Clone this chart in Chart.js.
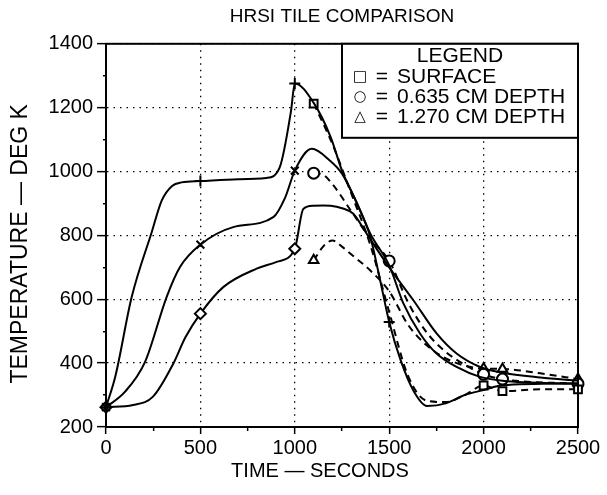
<!DOCTYPE html>
<html>
<head>
<meta charset="utf-8">
<script src="https://cdn.jsdelivr.net/npm/chart.js@4.4.0/dist/chart.umd.min.js"></script>
<style>
html, body { margin: 0; padding: 0; background: #fff; }
</style>
</head>
<body>
<canvas id="chart" width="607" height="495"></canvas>
<script>
// HRSI tile comparison: computed curves (solid) and test data (dashed)

// axis ticks
const xTicks = [0, 500, 1000, 1500, 2000, 2500];
const yTicks = [200, 400, 600, 800, 1000, 1200, 1400];

// computed - surface (+)
const surfCalcTime = [0, 50, 136, 242, 295, 350, 400, 500, 700, 850, 920, 980, 1000, 1100, 1190, 1250, 1330, 1400, 1450, 1500, 1560, 1630, 1700, 1800, 1900, 2000, 2100, 2500];
const surfCalcTemp = [262, 360, 607, 810, 909, 955, 966, 970, 976, 980, 1013, 1190, 1276, 1215, 1108, 1003, 899, 795, 665, 529, 410, 312, 266, 274, 300, 316, 331, 337];
const surfCalcMarks = [0, 500, 1000, 1500];

// computed - 0.635 cm depth (x)
const midCalcTime = [0, 100, 207, 321, 392, 500, 674, 886, 950, 1000, 1090, 1186, 1250, 1330, 1400, 1500, 1575, 1663, 1751, 1857, 1981, 2100, 2500];
const midCalcTemp = [262, 310, 404, 607, 701, 771, 826, 857, 920, 1003, 1071, 1034, 993, 900, 805, 706, 587, 493, 430, 388, 357, 345, 335];
const midCalcMarks = [0, 500, 1000];

// computed - 1.270 cm depth (diamond)
const deepCalcTime = [0, 143, 249, 357, 420, 500, 621, 798, 904, 1000, 1045, 1100, 1150, 1190, 1250, 1310, 1381, 1500, 1628, 1751, 1857, 1981, 2100, 2300, 2500];
const deepCalcTemp = [262, 269, 295, 399, 480, 555, 638, 696, 717, 758, 883, 893, 894, 893, 885, 868, 805, 700, 597, 493, 430, 388, 370, 355, 345];
const deepCalcMarks = [0, 500, 1000];

// test data - surface (square)
const surfTestTime = [1100, 1200, 1300, 1400, 1500, 1600, 1700, 1800, 1900, 2000, 2100, 2300, 2500];
const surfTestTemp = [1213, 1085, 930, 770, 560, 360, 282, 278, 300, 330, 312, 318, 318];
const surfTestMarks = [1100, 2000, 2100, 2500];

// test data - 0.635 cm depth (circle)
const midTestTime = [1100, 1150, 1200, 1300, 1400, 1500, 1600, 1700, 1800, 1900, 2000, 2100, 2500];
const midTestTemp = [995, 990, 960, 875, 790, 720, 590, 495, 435, 395, 365, 350, 335];
const midTestMarks = [1100, 1500, 2000, 2100, 2500];

// test data - 1.270 cm depth (triangle)
const deepTestTime = [1100, 1150, 1200, 1250, 1300, 1400, 1500, 1600, 1700, 1800, 1900, 2000, 2100, 2300, 2500];
const deepTestTemp = [722, 765, 784, 765, 740, 690, 625, 520, 455, 415, 392, 383, 382, 368, 350];
const deepTestMarks = [1100, 2000, 2100, 2500];

// texts
const chartTitle = 'HRSI TILE COMPARISON';
const xTitle = 'TIME \u2014 SECONDS';
const yTitle = 'TEMPERATURE \u2014 DEG K';
const legendTitle = 'LEGEND';
const legendSymbols = ['\u25A1', '\u25CB', '\u25B3'];
const legendNames = ['SURFACE', '0.635 CM DEPTH', '1.270 CM DEPTH'];

const FONT = '"Liberation Sans", Arial, sans-serif';
Chart.defaults.font.family = FONT;
Chart.defaults.color = '#000';

function toPoints(times, temps) {
    return times.map((t, i) => ({ x: t, y: temps[i] }));
}

function makeSet(times, temps, marks, style, dashed, fill) {
    return {
        data: toPoints(times, temps),
        borderColor: '#000',
        borderWidth: 2,
        borderDash: dashed ? [7, 5] : [],
        cubicInterpolationMode: 'monotone',
        pointStyle: style,
        pointRadius: (ctx) => marks.includes(times[ctx.dataIndex]) ? 5.5 : 0,
        pointBorderColor: '#000',
        pointBorderWidth: 2,
        pointBackgroundColor: fill,
        pointHoverRadius: 0,
        fill: false,
        clip: false
    };
}

// 図枠
const framePlugin = {
    id: 'frame',
    afterDatasetsDraw(chart) {
        const { ctx, chartArea: a } = chart;
        ctx.save();
        ctx.strokeStyle = '#000';
        ctx.lineWidth = 2;
        ctx.strokeRect(a.left, a.top, a.right - a.left, a.bottom - a.top);
        ctx.restore();
    }
};

// 軸タイトル
const axisTitlePlugin = {
    id: 'axisTitles',
    afterDraw(chart) {
        const { ctx, chartArea: a } = chart;
        ctx.save();
        ctx.fillStyle = '#000';
        ctx.textAlign = 'center';
        ctx.textBaseline = 'middle';
        ctx.font = '20px ' + FONT;
        ctx.fillText(xTitle, a.left + 214, a.bottom + 44);
        ctx.translate(21, a.top + 200);
        ctx.rotate(-Math.PI / 2);
        ctx.font = '23px ' + FONT;
        ctx.fillText(yTitle, 0, 0);
        ctx.restore();
    }
};

// 凡例ボックス
const legendBoxPlugin = {
    id: 'legendBox',
    afterDraw(chart) {
        const { ctx, chartArea: a } = chart;
        const left = a.right - 236;
        const top = a.top;
        const bottom = a.top + 94;
        ctx.save();
        ctx.fillStyle = '#fff';
        ctx.fillRect(left, top, a.right - left, bottom - top);
        ctx.strokeStyle = '#000';
        ctx.lineWidth = 2;
        ctx.strokeRect(left, top, a.right - left, bottom - top);
        ctx.fillStyle = '#000';
        ctx.textBaseline = 'middle';
        ctx.textAlign = 'center';
        ctx.font = '21px ' + FONT;
        ctx.fillText(legendTitle, left + 118, top + 12);
        legendNames.forEach((name, i) => {
            const y = top + 33 + i * 20;
            ctx.textAlign = 'center';
            ctx.font = '15px "DejaVu Sans"';
            ctx.fillText(legendSymbols[i], left + 18, y);
            ctx.font = '21px ' + FONT;
            ctx.fillText('=', left + 40, y);
            ctx.textAlign = 'left';
            ctx.fillText(name, left + 55, y);
        });
        ctx.restore();
    }
};

const isMajorX = (v) => xTicks.includes(v);
const isMajorY = (v) => yTicks.includes(v);

new Chart(document.getElementById('chart').getContext('2d'), {
    type: 'line',
    data: {
        datasets: [
            makeSet(surfCalcTime, surfCalcTemp, surfCalcMarks, 'cross', false, '#000'),
            makeSet(midCalcTime, midCalcTemp, midCalcMarks, 'crossRot', false, '#000'),
            makeSet(deepCalcTime, deepCalcTemp, deepCalcMarks, 'rectRot', false, '#fff'),
            makeSet(surfTestTime, surfTestTemp, surfTestMarks, 'rect', true, '#fff'),
            makeSet(midTestTime, midTestTemp, midTestMarks, 'circle', true, '#fff'),
            makeSet(deepTestTime, deepTestTemp, deepTestMarks, 'triangle', true, '#fff')
        ]
    },
    options: {
        responsive: false,
        animation: false,
        events: [],
        layout: { padding: { left: 0, right: 29, top: 0, bottom: 0 } },
        plugins: {
            legend: { display: false },
            tooltip: { enabled: false },
            title: {
                display: true,
                fullSize: false,
                text: chartTitle,
                color: '#000',
                font: { size: 19, weight: 'normal' },
                padding: { top: 5, bottom: 16 }
            }
        },
        scales: {
            x: {
                type: 'linear',
                min: 0,
                max: 2500,
                afterFit: (scale) => { scale.height = 68; },
                ticks: {
                    stepSize: 250,
                    autoSkip: false,
                    maxRotation: 0,
                    padding: 2,
                    font: { size: 20 },
                    color: '#000',
                    callback: (v) => isMajorX(v) ? String(v) : ''
                },
                grid: {
                    color: (ctx) => ctx.tick && isMajorX(ctx.tick.value) ? '#000' : 'rgba(0,0,0,0)',
                    lineWidth: 1.3,
                    tickColor: '#000',
                    tickLength: 7,
                    tickWidth: 1.5,
                    tickBorderDash: (ctx) => ctx.tick && isMajorX(ctx.tick.value) ? [] : [3, 100]
                },
                border: { display: true, color: '#000', width: 2, dash: [1.5, 5] }
            },
            y: {
                type: 'linear',
                min: 200,
                max: 1400,
                afterFit: (scale) => { scale.width = 106; },
                ticks: {
                    stepSize: 100,
                    autoSkip: false,
                    padding: 4,
                    font: { size: 20 },
                    color: '#000',
                    callback: (v) => isMajorY(v) ? String(v) : ''
                },
                grid: {
                    color: (ctx) => ctx.tick && isMajorY(ctx.tick.value) ? '#000' : 'rgba(0,0,0,0)',
                    lineWidth: 1.3,
                    tickColor: '#000',
                    tickLength: 9,
                    tickWidth: 1.5,
                    tickBorderDash: (ctx) => ctx.tick && isMajorY(ctx.tick.value) ? [] : [0, 6, 3, 100]
                },
                border: { display: true, color: '#000', width: 2, dash: [1.5, 5] }
            }
        }
    },
    plugins: [framePlugin, axisTitlePlugin, legendBoxPlugin]
});
</script>
</body>
</html>
